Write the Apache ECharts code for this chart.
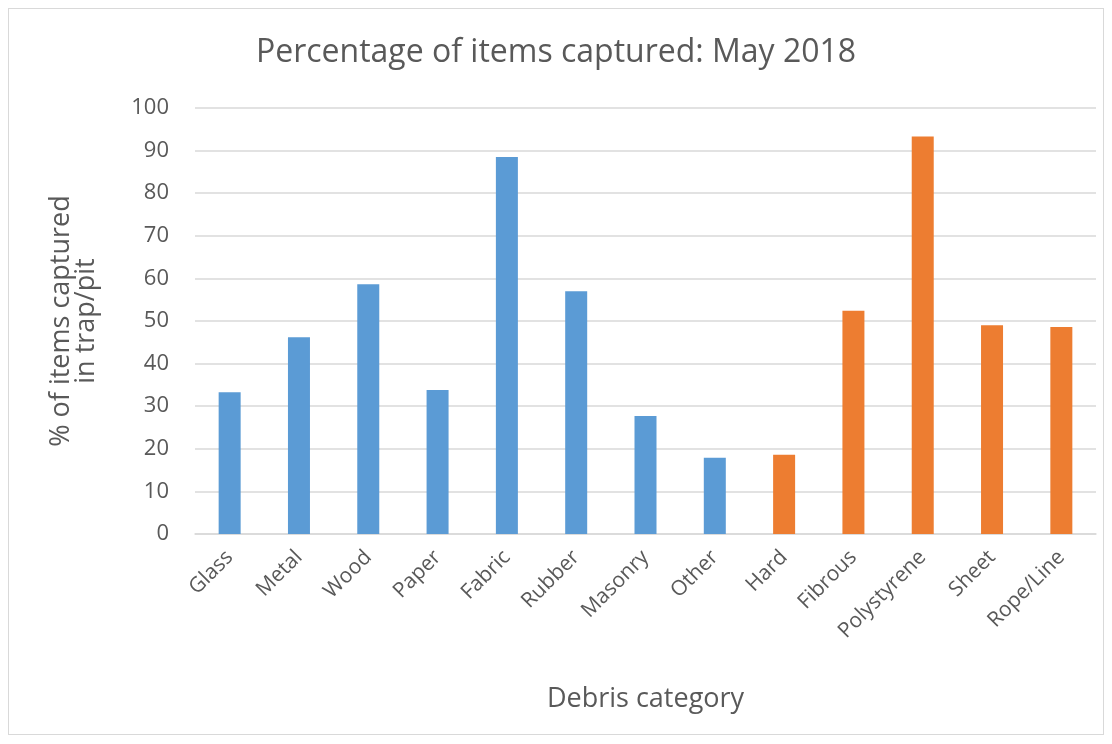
<!DOCTYPE html>
<html lang="en">
<head>
    <meta charset="UTF-8">
    <title>Percentage of items captured: May 2018</title>
    <script src="https://cdn.jsdelivr.net/npm/echarts@6.0.0/dist/echarts.min.js"></script>
    <style>
        html, body { margin: 0; padding: 0; background: #fff; }
        #frame { position: absolute; left: 8px; top: 8px; width: 1096px; height: 727px; border: 1px solid #d9d9d9; box-sizing: border-box; }
        #chart { position: absolute; left: 0; top: 0; width: 1112px; height: 744px; }
    </style>
</head>
<body>
    <div id="frame"></div>
    <div id="chart"></div>

    <script>
        // categories and values
        const categories = ['Glass', 'Metal', 'Wood', 'Paper', 'Fabric', 'Rubber', 'Masonry', 'Other',
            'Hard', 'Fibrous', 'Polystyrene', 'Sheet', 'Rope/Line'];
        const generalValues = [33.3, 46.2, 58.6, 33.8, 88.5, 57.0, 27.7, 17.9, null, null, null, null, null];
        const plasticValues = [null, null, null, null, null, null, null, null, 18.6, 52.4, 93.3, 49.0, 48.6];

        const font = 'Open Sans';
        const textColor = '#595959';

        const chart = echarts.init(document.getElementById('chart'));
        chart.setOption({
            animation: false,
            title: {
                text: 'Percentage of items captured: May 2018',
                left: 'center',
                top: 32,
                textStyle: { fontFamily: font, fontSize: 32, fontWeight: 'normal', color: textColor }
            },
            grid: { left: 195, right: 16, top: 108, bottom: 210 },
            xAxis: {
                type: 'category',
                data: categories,
                axisLine: { lineStyle: { color: '#d9d9d9', width: 1.5 } },
                axisTick: { show: false },
                axisLabel: { rotate: 45, fontFamily: font, fontSize: 21, color: textColor, margin: 20 },
                name: 'Debris category',
                nameLocation: 'middle',
                nameGap: 152,
                nameTextStyle: { fontFamily: font, fontSize: 27, color: textColor }
            },
            yAxis: {
                type: 'value',
                min: 0,
                max: 100,
                interval: 10,
                axisLine: { show: false },
                axisTick: { show: false },
                splitLine: { lineStyle: { color: '#d9d9d9', width: 1.5 } },
                axisLabel: { fontFamily: font, fontSize: 22, color: textColor, margin: 26 },
                name: '% of items captured\nin trap/pit',
                nameLocation: 'middle',
                nameGap: 96,
                nameRotate: 90,
                nameTextStyle: { fontFamily: font, fontSize: 27, color: textColor, lineHeight: 25 }
            },
            series: [
                {
                    type: 'bar',
                    data: generalValues,
                    barWidth: 22,
                    barGap: '-100%',
                    itemStyle: { color: '#5b9bd5' }
                },
                {
                    type: 'bar',
                    data: plasticValues,
                    barWidth: 22,
                    itemStyle: { color: '#ed7d31' }
                }
            ]
        });
    </script>
</body>
</html>
